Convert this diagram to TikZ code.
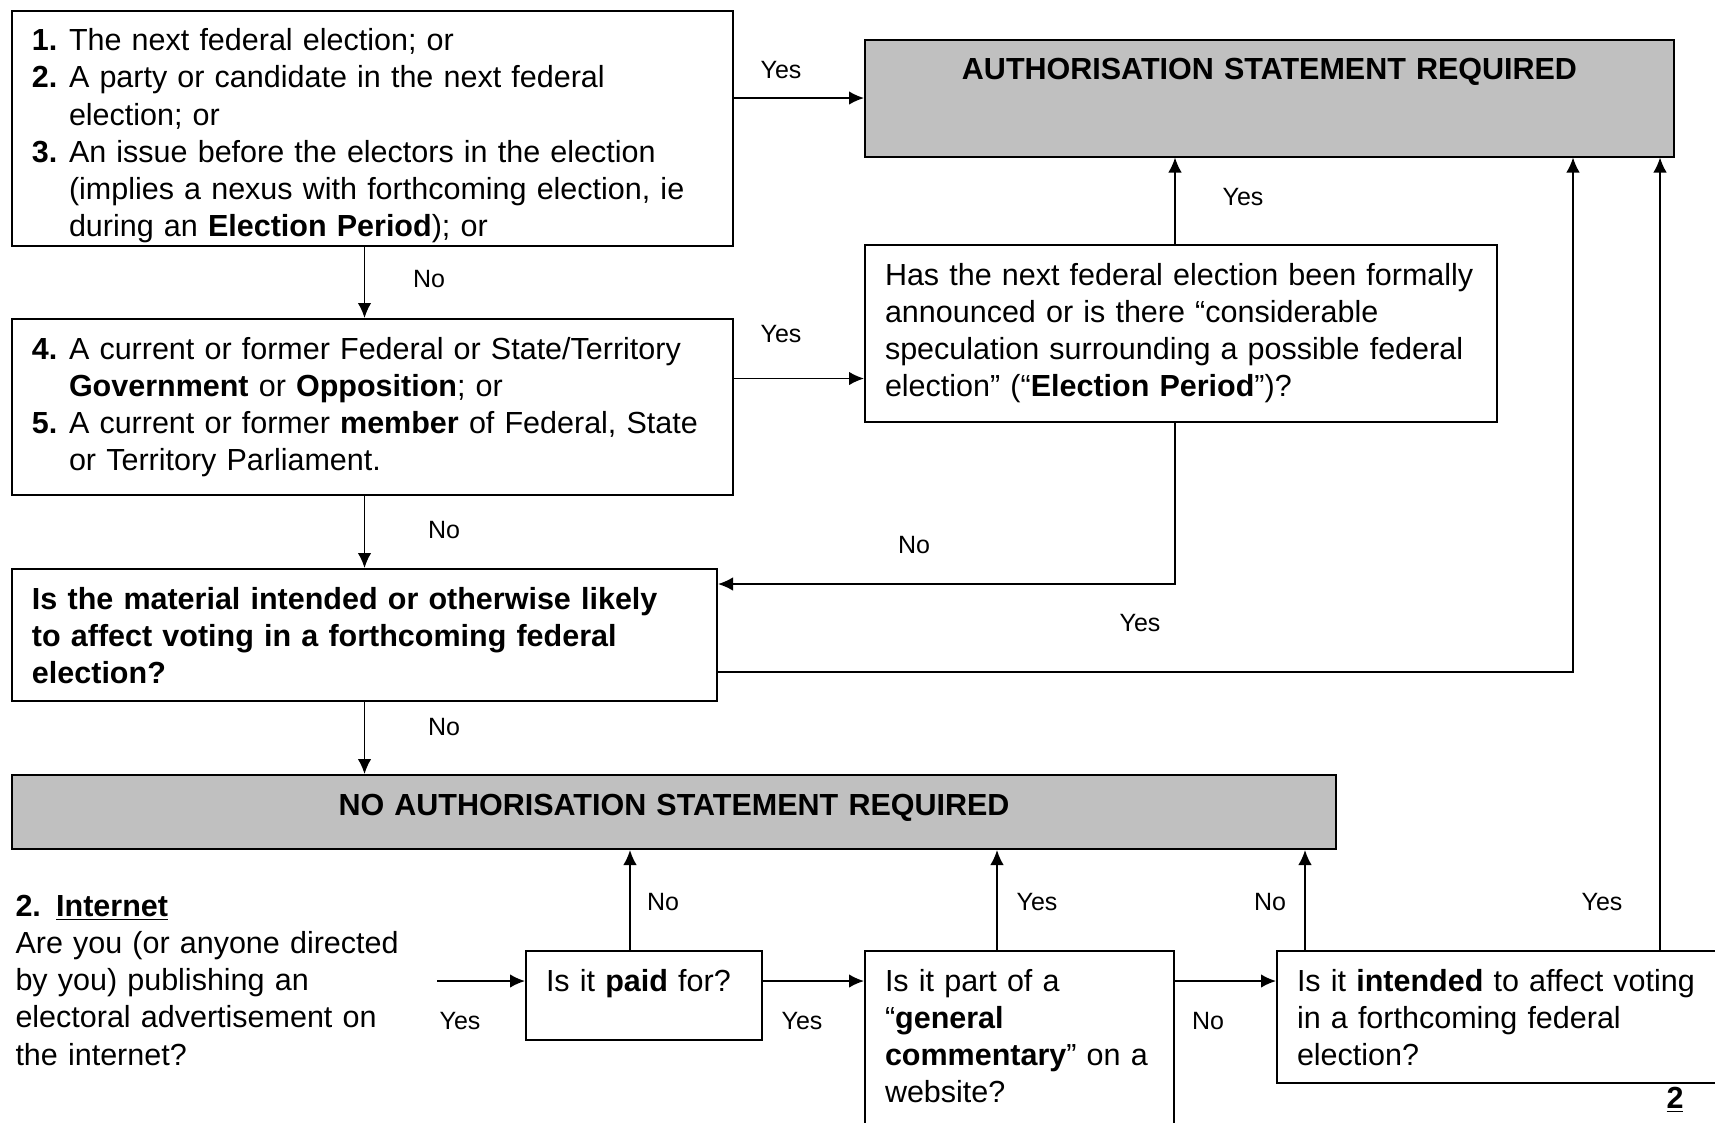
\documentclass[tikz,border=0pt]{standalone}
\usepackage{fontspec}
\setmainfont{Liberation Sans}
\usepackage{tikz}
\usetikzlibrary{arrows.meta}

\definecolor{boxgrey}{RGB}{192,192,192}
\newcommand{\boxfont}{\fontsize{12.2}{14.9}\selectfont}
\newcommand{\stepno}[1]{\makebox[14.8pt][l]{\textbf{#1}}}
\newcommand{\stepgap}{\hspace*{14.8pt}}

\tikzset{
  box/.style={draw, line width=0.8pt, anchor=north west, align=left, inner xsep=8pt, inner ysep=0pt, text height=16pt, font=\boxfont},
  greybox/.style={box, fill=boxgrey, align=center, font=\boxfont\bfseries},
  lbl/.style={inner sep=0pt, font=\fontsize{10}{12}\selectfont},
  arr/.style={->, >={Latex[length=6pt,width=5.4pt]}, line width=0.65pt}
}

\begin{document}
\begin{tikzpicture}[x=0.4pt, y=-0.4pt]
\useasboundingbox (0,0) rectangle (1715,1122);
\clip (0,0) rectangle (1715,1122);
\node[box, text width=272.4pt, text depth=78.2pt] (about) at (11,9.5) {\stepno{1.}The next federal election; or\\
\stepno{2.}A party or candidate in the next federal\\
\stepgap election; or\\
\stepno{3.}An issue before the electors in the election\\
\stepgap (implies a nexus with forthcoming election, ie\\
\stepgap during an \textbf{Election Period}); or};
\node[box, text width=272.4pt, text depth=54.4pt] (govt) at (11,318) {\stepno{4.}A current or former Federal or State/Territory\\
\stepgap\textbf{Government} or \textbf{Opposition}; or\\
\stepno{5.}A current or former \textbf{member} of Federal,~State\\
\stepgap or Territory Parliament.};
\node[box, font=\boxfont\bfseries, text width=266pt, text depth=36.8pt] (likely) at (11,568) {Is the material intended or otherwise likely\\
to affect voting in a forthcoming federal\\
election?};
\node[greybox, text width=513.6pt, text depth=13.6pt] (noauth) at (11,774) {NO AUTHORISATION STATEMENT REQUIRED};
\node[greybox, text width=307.6pt, text depth=30.8pt] (auth) at (864,38.5) {AUTHORISATION STATEMENT REQUIRED};
\node[box, text width=236.8pt, text depth=54.8pt] (period) at (864,244) {Has the next federal election been~formally\\
announced or is there “considerable\\
speculation surrounding a possible~federal\\
election” (“\textbf{Election Period}”)?};
\node[box, text width=78.4pt, text depth=19.6pt] (paid) at (525,950) {Is it \textbf{paid}~for?};
\node[box, text width=107.6pt, text depth=60pt] (comment) at (864,950) {Is it part of a\\
“\textbf{general}\\
\textbf{commentary}”~on~a\\
website?};
\node[box, text width=165.6pt, text depth=36.8pt] (intend) at (1276,950) {Is it \textbf{intended} to affect voting\\
in a forthcoming federal\\
election?};
\node[anchor=base west, align=left, text width=170pt, inner sep=0pt, font=\boxfont] (inet) at (15,916) {\textbf{2. \underline{Internet}}\\
Are you (or anyone directed\\
by you) publishing an\\
electoral advertisement on\\
the internet?};
\node[inner sep=0pt, font=\boxfont\bfseries] (page) at (1675,1100) {\underline{2}};
\coordinate (inetout) at (437,981);

\draw[arr] (auth.west -| about.east) -- (auth.west);
\draw[arr] (about.south -| likely.north) -- (govt.north -| likely.north);
\draw[arr] ([yshift=11.4pt]govt.east) -- ([yshift=11.4pt]govt.east -| period.west);
\draw[arr] ([xshift=-2.4pt]period.north) -- ([xshift=-2.4pt]period.north |- auth.south);
\draw[arr] ([xshift=-2.4pt]period.south) |- ([yshift=20.4pt]likely.east);
\draw[arr] (govt.south -| likely.north) -- (likely.north);
\draw[arr] ([yshift=-14.8pt]likely.east) -| ([xshift=-40.8pt]auth.south east);
\draw[arr] (likely.south) -- (likely.south |- noauth.north);
\draw[arr] (inetout) -- (inetout -| paid.west);
\draw[arr] ([xshift=-5.6pt]paid.north) -- ([xshift=-5.6pt]paid.north |- noauth.south);
\draw[arr] (inetout -| paid.east) -- (inetout -| comment.west);
\draw[arr] ([xshift=-9pt]comment.north) -- ([xshift=-9pt]comment.north |- noauth.south);
\draw[arr] (inetout -| comment.east) -- (inetout -| intend.west);
\draw[arr] ([xshift=11.6pt]intend.north west) -- ([xshift=11.6pt]intend.north west |- noauth.south);
\draw[arr] ([xshift=-6pt]auth.south east |- intend.north) -- ([xshift=-6pt]auth.south east);

\node[lbl] (yesabout) at (781,70) {Yes};
\node[lbl] (noabout) at (429,279) {No};
\node[lbl] (yesgovt) at (781,334) {Yes};
\node[lbl] (yesperiod) at (1243,197) {Yes};
\node[lbl] (noperiod) at (914,545) {No};
\node[lbl] (nogovt) at (444,530) {No};
\node[lbl] (yeslikely) at (1140,623) {Yes};
\node[lbl] (nolikely) at (444,727) {No};
\node[lbl] (yesinet) at (460,1021) {Yes};
\node[lbl] (nopaid) at (663,902) {No};
\node[lbl] (yespaid) at (802,1021) {Yes};
\node[lbl] (yescomment) at (1037,902) {Yes};
\node[lbl] (nocomment) at (1208,1021) {No};
\node[lbl] (nointend) at (1270,902) {No};
\node[lbl] (yesintend) at (1602,902) {Yes};
\end{tikzpicture}
\end{document}
